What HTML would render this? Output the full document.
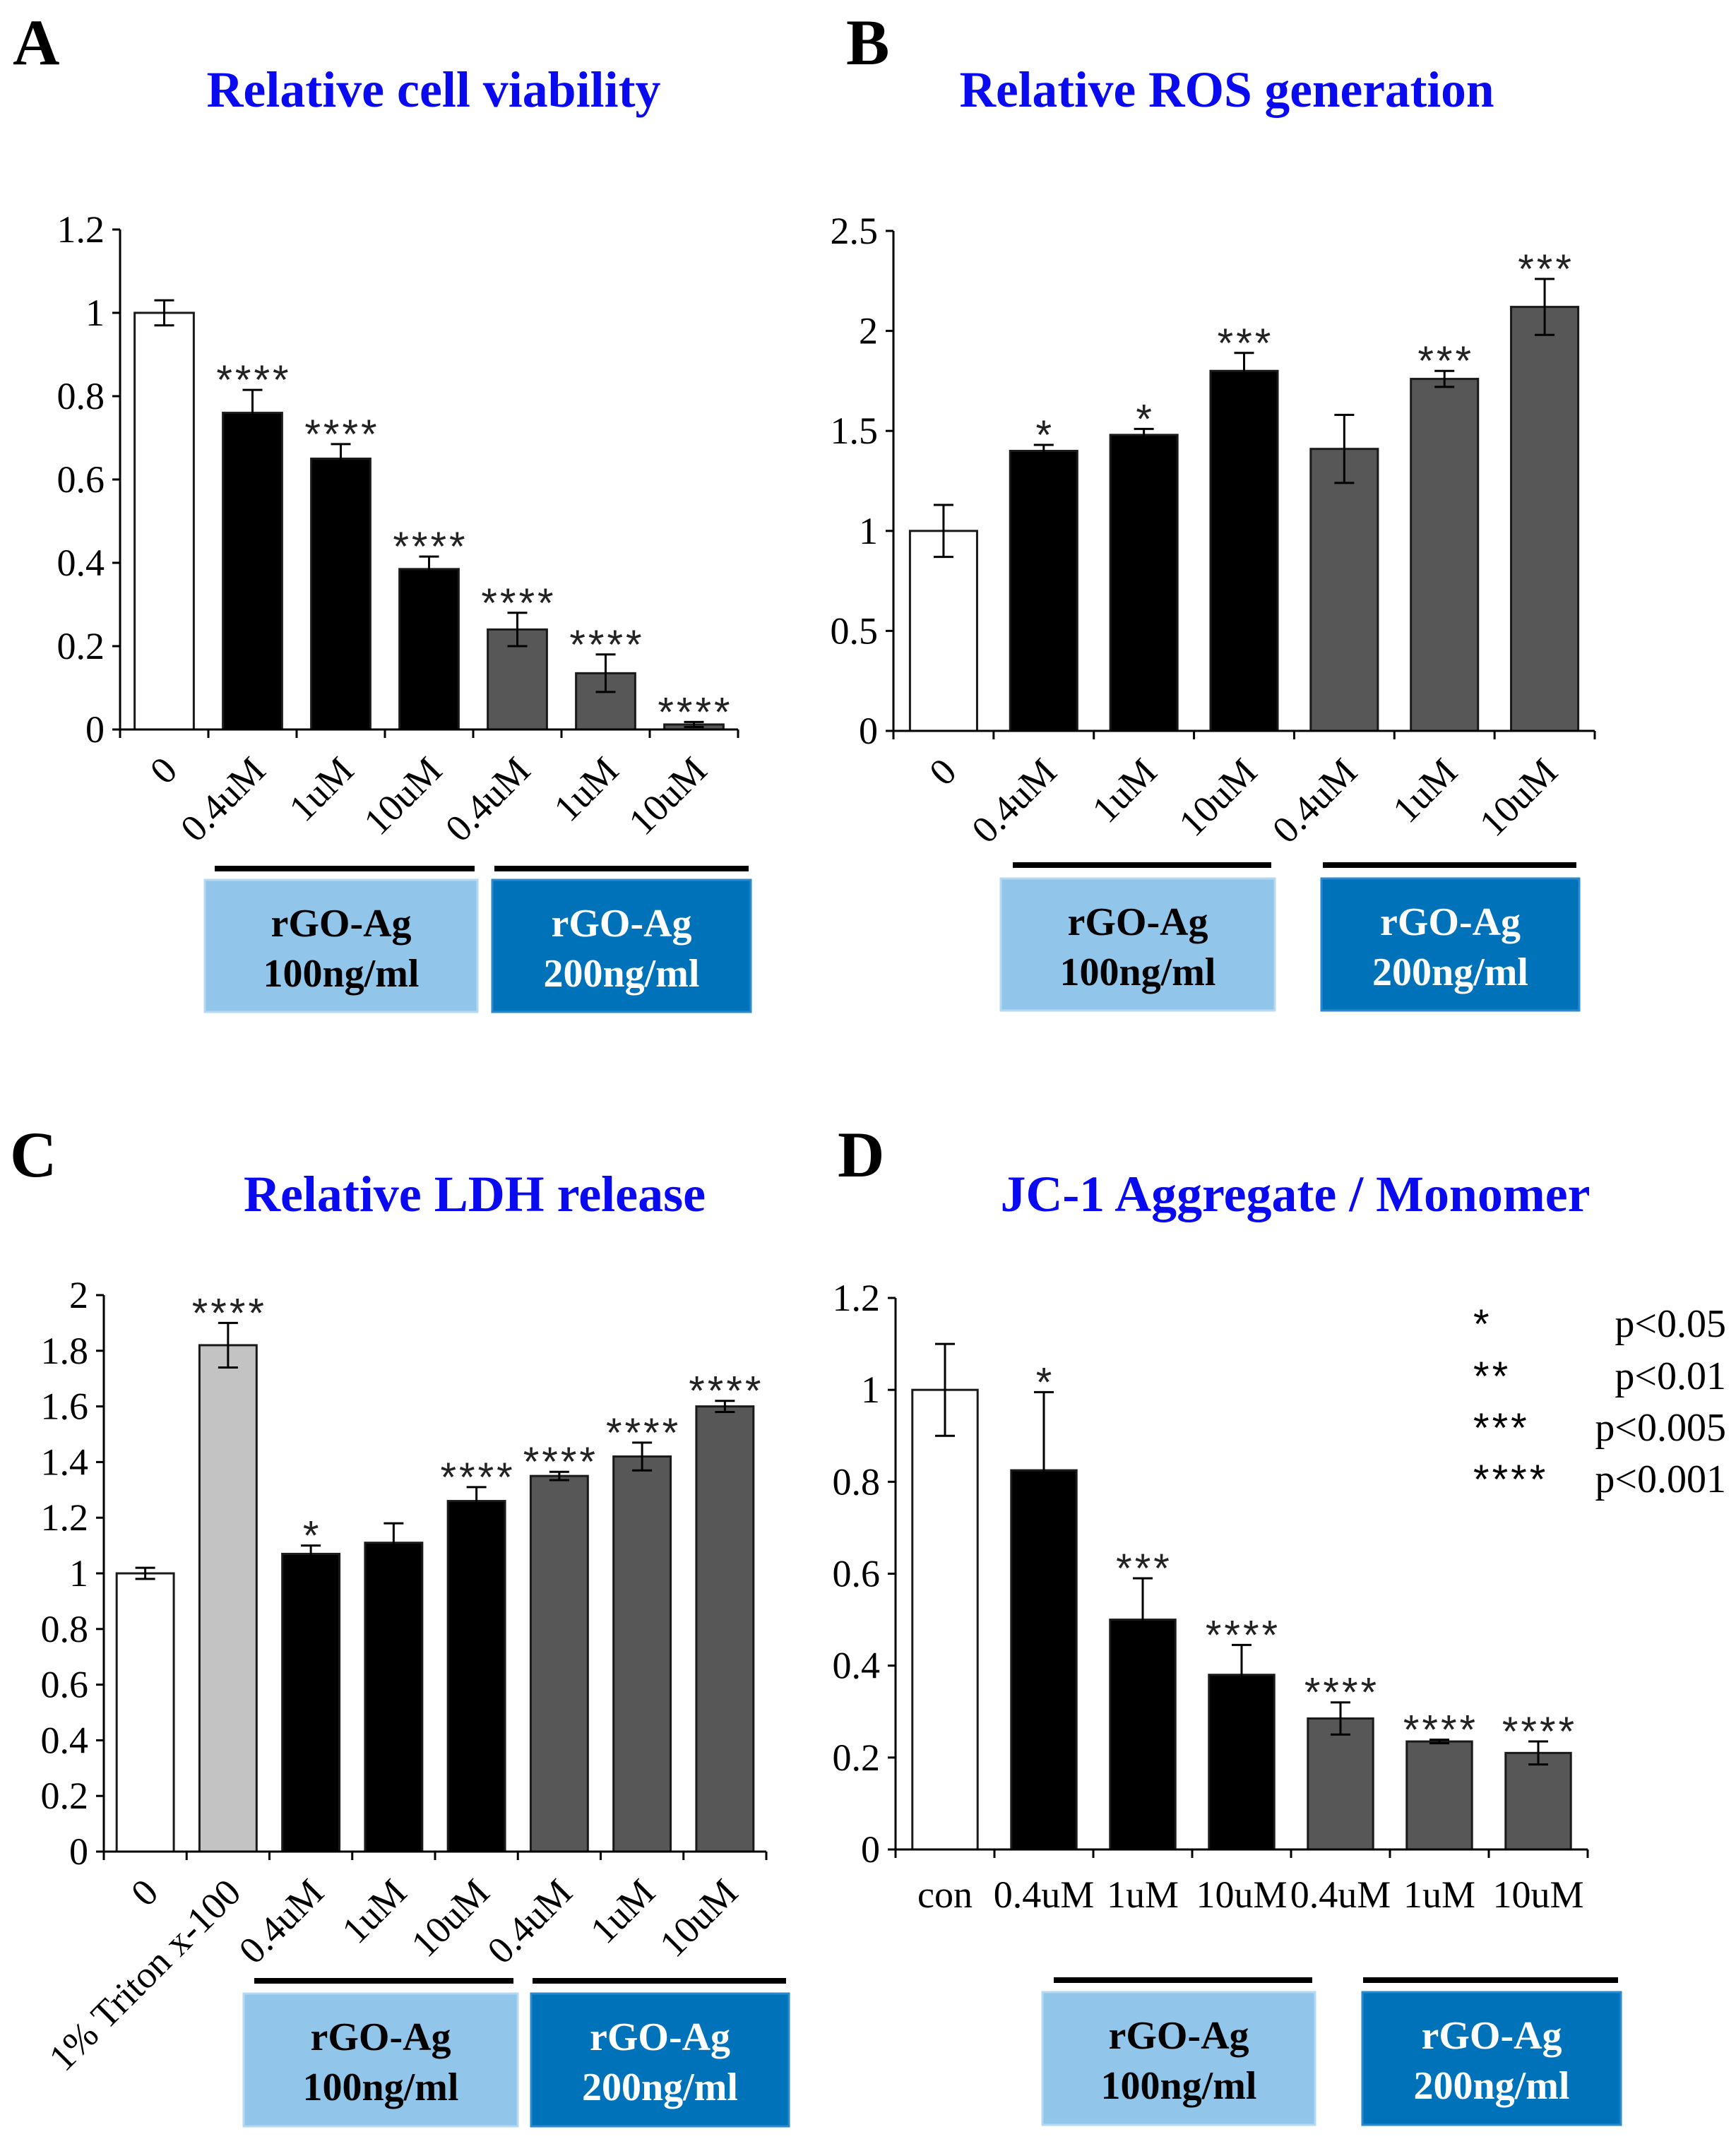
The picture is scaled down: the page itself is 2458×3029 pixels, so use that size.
<!DOCTYPE html>
<html><head><meta charset="utf-8"><style>
html,body{margin:0;padding:0;background:#fff}
svg{display:block}
</style></head><body>
<svg id="fig" width="2458" height="3029" viewBox="0 0 2458 3029" xmlns="http://www.w3.org/2000/svg">
<g font-family="'Liberation Serif', serif" font-weight="bold">
<text x="18" y="91" font-size="92">A</text>
<text x="1198" y="91" font-size="92">B</text>
<text x="14" y="1666" font-size="92">C</text>
<text x="1186" y="1666" font-size="92">D</text>
<g fill="#0a0af0" font-size="72" text-anchor="middle">
<text x="614" y="151" textLength="643" lengthAdjust="spacingAndGlyphs">Relative cell viability</text>
<text x="1737" y="151" textLength="757" lengthAdjust="spacingAndGlyphs">Relative ROS generation</text>
<text x="672" y="1715" textLength="654" lengthAdjust="spacingAndGlyphs">Relative LDH release</text>
<text x="1834" y="1715" textLength="835" lengthAdjust="spacingAndGlyphs">JC-1 Aggregate / Monomer</text>
</g>
</g>
<g id="charts"></g>
<g font-family="'Liberation Serif', serif" font-size="56">
<text x="2086" y="1895" font-family="'Liberation Sans', sans-serif" font-size="58" letter-spacing="4">*</text>
<text x="2444" y="1893" text-anchor="end">p&lt;0.05</text>
<text x="2086" y="1969" font-family="'Liberation Sans', sans-serif" font-size="58" letter-spacing="4">**</text>
<text x="2444" y="1967" text-anchor="end">p&lt;0.01</text>
<text x="2086" y="2042" font-family="'Liberation Sans', sans-serif" font-size="58" letter-spacing="4">***</text>
<text x="2444" y="2040" text-anchor="end">p&lt;0.005</text>
<text x="2086" y="2115" font-family="'Liberation Sans', sans-serif" font-size="58" letter-spacing="4">****</text>
<text x="2444" y="2113" text-anchor="end">p&lt;0.001</text>
</g>
</svg>
<script>
// ---- data ----
const catsA = ["0","0.4uM","1uM","10uM","0.4uM","1uM","10uM"];
const valsA = [1, 0.76, 0.65, 0.385, 0.24, 0.135, 0.012];
const errA  = [0.03, 0.055, 0.035, 0.03, 0.04, 0.045, 0.006];
const sigA  = ["", "****","****","****","****","****","****"];
const ticksA = ["0","0.2","0.4","0.6","0.8","1","1.2"];

const catsB = ["0","0.4uM","1uM","10uM","0.4uM","1uM","10uM"];
const valsB = [1, 1.40, 1.48, 1.80, 1.41, 1.76, 2.12];
const errB  = [0.13, 0.03, 0.03, 0.09, 0.17, 0.04, 0.14];
const sigB  = ["", "*","*","***","","***","***"];
const ticksB = ["0","0.5","1","1.5","2","2.5"];

const catsC = ["0","1% Triton x-100","0.4uM","1uM","10uM","0.4uM","1uM","10uM"];
const valsC = [1, 1.82, 1.07, 1.11, 1.26, 1.35, 1.42, 1.60];
const errC  = [0.02, 0.08, 0.03, 0.07, 0.05, 0.015, 0.05, 0.02];
const sigC  = ["", "****","*","","****","****","****","****"];
const ticksC = ["0","0.2","0.4","0.6","0.8","1","1.2","1.4","1.6","1.8","2"];

const catsD = ["con","0.4uM","1uM","10uM","0.4uM","1uM","10uM"];
const valsD = [1, 0.825, 0.50, 0.38, 0.285, 0.235, 0.21];
const errD  = [0.10, 0.17, 0.09, 0.065, 0.035, 0.004, 0.025];
const sigD  = ["", "*","***","****","****","****","****"];
const ticksD = ["0","0.2","0.4","0.6","0.8","1","1.2"];

const NS = "http://www.w3.org/2000/svg";
const root = document.getElementById('charts');
function mk(tag, attrs, parent){
  const e = document.createElementNS(NS, tag);
  for (const k in attrs) e.setAttribute(k, attrs[k]);
  parent.appendChild(e);
  return e;
}
function chart(id, cats, vals, errs, sigs, ticks, ymax, L, colors, rotate, groups){
  const g = mk('g', {}, root);
  
  
  const y = v => L.y0 - (v / ymax) * (L.y0 - L.y1);
  const n = cats.length, slot = (L.x1 - L.x0) / n;
  const xc = i => L.x0 + slot * (i + 0.5);
  ticks.forEach(t => {
    const v = parseFloat(t), yy = y(v);
    const tl = mk('line', {x1: L.x0 - 11, x2: L.x0, y1: yy, y2: yy, stroke: '#000', 'stroke-width': 3}, g);
    
    
    const tx = mk('text', {x: L.x0 - 22, y: yy + 18, 'text-anchor': 'end', 'font-size': 54, 'font-family': "'Liberation Serif', serif"}, g);
    tx.textContent = t;
    
    
  });
  cats.forEach((c, i) => {
    const w = slot * L.bw, top = y(vals[i]);
    const b = mk('rect', {x: xc(i) - w / 2, y: top, width: w, height: L.y0 - top, fill: colors[i], stroke: '#1a1a1a', 'stroke-width': 3}, g);
    
    
    const et = y(vals[i] + errs[i]), eb = y(vals[i] - errs[i]);
    const ep = mk('path', {d: `M${xc(i)} ${et}V${eb}M${xc(i)-14} ${et}H${xc(i)+14}M${xc(i)-14} ${eb}H${xc(i)+14}`, stroke: '#000', 'stroke-width': 3, fill: 'none'}, g);
    
    
    if (sigs[i]) {
      const s = mk('text', {x: xc(i) + 2, y: et + 6, 'text-anchor': 'middle', 'font-size': 58, 'letter-spacing': 4, 'font-family': "'Liberation Sans', sans-serif", fill: '#222'}, g);
      s.textContent = sigs[i];
      
      
    }
    let lab;
    if (rotate) {
      const ax = xc(i) - 6, ay = L.y0 + 34;
      lab = mk('text', {x: ax, y: ay, 'text-anchor': 'end', 'font-size': 54, 'font-family': "'Liberation Serif', serif", transform: `rotate(-45 ${ax} ${ay})`, 'dominant-baseline': 'hanging'}, g);
    } else {
      lab = mk('text', {x: xc(i), y: L.y0 + 82, 'text-anchor': 'middle', 'font-size': 54, 'font-family': "'Liberation Serif', serif"}, g);
    }
    lab.textContent = c;
    
    
  });
  const ax = mk('path', {d: `M${L.x0} ${L.y1}V${L.y0}H${L.x1}`, stroke: '#000', 'stroke-width': 3, fill: 'none'}, g);
  
  
  for (let i = 0; i <= n; i++) {
    const xx = L.x0 + slot * i;
    const t = mk('line', {x1: xx, x2: xx, y1: L.y0, y2: L.y0 + 12, stroke: '#000', 'stroke-width': 3}, g);
    
    
  }
  groups.forEach((gr, k) => {
    const ln = mk('line', {x1: gr.lx0, x2: gr.lx1, y1: gr.ly, y2: gr.ly, stroke: '#000', 'stroke-width': 8}, g);
    
    
    const bx = mk('rect', {x: gr.bx0, y: gr.by, width: gr.bx1 - gr.bx0, height: gr.bh, fill: k ? '#0072b9' : '#91c6ea', stroke: k ? '#2a8ad0' : '#b5d9f2', 'stroke-width': 3}, g);
    
    
    const cx = (gr.bx0 + gr.bx1) / 2, col = k ? '#fff' : '#000';
    const t1 = mk('text', {x: cx, y: gr.by + 80, 'text-anchor': 'middle', 'font-size': 56, 'font-weight': 'bold', fill: col, 'font-family': "'Liberation Serif', serif"}, g);
    t1.textContent = 'rGO-Ag';
    
    
    const t2 = mk('text', {x: cx, y: gr.by + 151, 'text-anchor': 'middle', 'font-size': 56, 'font-weight': 'bold', fill: col, 'font-family': "'Liberation Serif', serif"}, g);
    t2.textContent = k ? '200ng/ml' : '100ng/ml';
    
    
  });
}
const W = '#ffffff', K = '#000000', G = '#575757', LG = '#c3c3c3';
chart('cell-viability', catsA, valsA, errA, sigA, ticksA, 1.2,
  {x0: 170, x1: 1045, y0: 1033, y1: 325, bw: 0.67}, [W, K, K, K, G, G, G], true,
  [{lx0: 304, lx1: 672, ly: 1230, bx0: 290, bx1: 676, by: 1246, bh: 187},
   {lx0: 700, lx1: 1060, ly: 1230, bx0: 697, bx1: 1063, by: 1246, bh: 187}]);
chart('ros-generation', catsB, valsB, errB, sigB, ticksB, 2.5,
  {x0: 1265, x1: 2258, y0: 1035, y1: 327, bw: 0.67}, [W, K, K, K, G, G, G], true,
  [{lx0: 1434, lx1: 1800, ly: 1225, bx0: 1417, bx1: 1805, by: 1244, bh: 187},
   {lx0: 1873, lx1: 2232, ly: 1225, bx0: 1871, bx1: 2236, by: 1244, bh: 187}]);
chart('ldh-release', catsC, valsC, errC, sigC, ticksC, 2,
  {x0: 147, x1: 1085, y0: 2622, y1: 1834, bw: 0.69}, [W, LG, K, K, K, G, G, G], true,
  [{lx0: 360, lx1: 727, ly: 2805, bx0: 345, bx1: 733, by: 2823, bh: 188},
   {lx0: 754, lx1: 1113, ly: 2805, bx0: 752, bx1: 1117, by: 2823, bh: 188}]);
chart('jc1-ratio', catsD, valsD, errD, sigD, ticksD, 1.2,
  {x0: 1268, x1: 2248, y0: 2619, y1: 1838, bw: 0.66}, [W, K, K, K, G, G, G], false,
  [{lx0: 1492, lx1: 1858, ly: 2804, bx0: 1476, bx1: 1862, by: 2821, bh: 188},
   {lx0: 1930, lx1: 2291, ly: 2804, bx0: 1929, bx1: 2295, by: 2821, bh: 188}]);
</script>
</body></html>
